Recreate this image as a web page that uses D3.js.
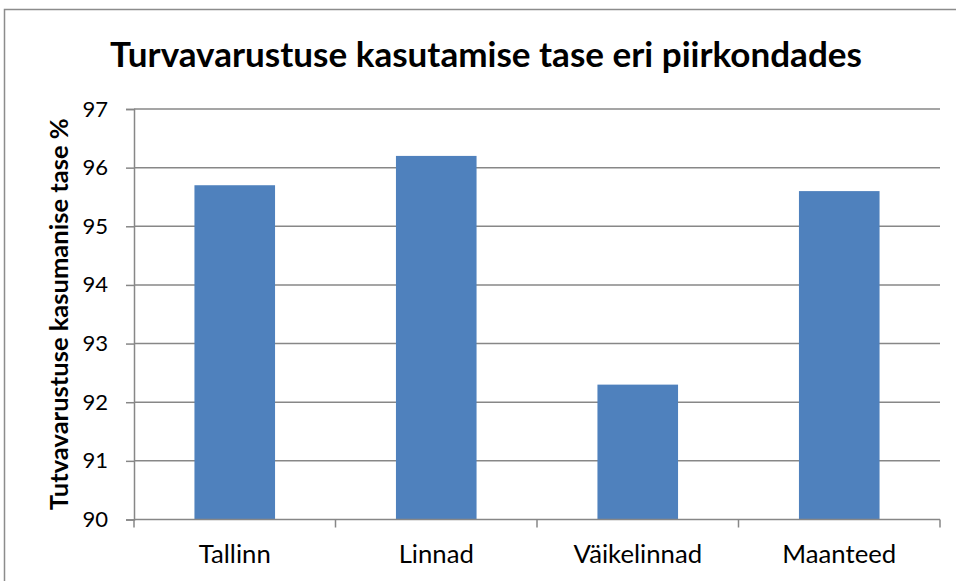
<!DOCTYPE html>
<html>
<head>
<meta charset="utf-8">
<script src="https://cdn.jsdelivr.net/npm/d3@7"></script>
<style>
  body { margin: 0; background: #fff; }
  svg { display: block; font-family: Lato, "Open Sans", "Liberation Sans", sans-serif; }
</style>
</head>
<body>
<svg id="chart" width="956" height="581"></svg>
<script>
// data
const categories = ["Tallinn", "Linnad", "Väikelinnad", "Maanteed"];
const values = [95.7, 96.2, 92.3, 95.6];
const yTicks = [90, 91, 92, 93, 94, 95, 96, 97];
const titleText = "Turvavarustuse kasutamise tase eri piirkondades";
const yLabel = "Tutvavarustuse kasumanise tase %";

const font = 'Lato, "Open Sans", "Liberation Sans", sans-serif';
const svg = d3.select("#chart");
const grid = "#878787";

// scale a text's font size so it spans a target width
function fitSize(sel, base, target) {
  const w = sel.node().getComputedTextLength();
  return base * target / w;
}

// outer frame (right / bottom run off the picture)
svg.append("rect")
  .attr("x", 4.5).attr("y", 9.5)
  .attr("width", 970).attr("height", 600)
  .attr("fill", "#fff")
  .attr("stroke", "#8c8c8c")
  .attr("stroke-width", 1.5);

const plotL = 134, plotR = 940, plotT = 109, plotB = 519.5;

const x = d3.scaleBand().domain(categories).range([plotL, plotR]).paddingInner(0.6).paddingOuter(0.3);
const y = d3.scaleLinear().domain([90, 97]).range([plotB, plotT]);

// gridlines
svg.append("g")
  .selectAll("line")
  .data(yTicks.slice(1))
  .join("line")
  .attr("x1", plotL).attr("x2", plotR)
  .attr("y1", d => y(d)).attr("y2", d => y(d))
  .attr("stroke", grid).attr("stroke-width", 1.5);

// bars
svg.append("g")
  .selectAll("rect")
  .data(values)
  .join("rect")
  .attr("x", (d, i) => x(categories[i]))
  .attr("width", x.bandwidth())
  .attr("y", d => y(d))
  .attr("height", d => y(90) - y(d))
  .attr("fill", "#4f81bd");

// y axis
const yAxis = svg.append("g")
  .attr("transform", `translate(${plotL},0)`)
  .call(d3.axisLeft(y).tickValues(yTicks).tickSize(8).tickPadding(18).tickFormat(d3.format("d")))
  .attr("font-family", font);
yAxis.select(".domain").attr("stroke", grid).attr("stroke-width", 1.5);
yAxis.selectAll(".tick line").attr("stroke", grid).attr("stroke-width", 1.5);
const tickText = yAxis.selectAll("text").attr("font-size", 20).attr("fill", "#000");
const tickSize = fitSize(d3.select(tickText.nodes()[7]), 20, 25.6);
tickText.attr("font-size", tickSize);

// x axis: baseline + ticks between categories
const edges = d3.range(categories.length + 1).map(i => plotL + i * (plotR - plotL) / categories.length);
svg.append("line")
  .attr("x1", plotL).attr("x2", plotR)
  .attr("y1", plotB).attr("y2", plotB)
  .attr("stroke", grid).attr("stroke-width", 1.5);
svg.append("g")
  .selectAll("line")
  .data(edges)
  .join("line")
  .attr("x1", d => d).attr("x2", d => d)
  .attr("y1", plotB).attr("y2", plotB + 8)
  .attr("stroke", grid).attr("stroke-width", 1.5);
const catText = svg.append("g")
  .selectAll("text")
  .data(categories)
  .join("text")
  .attr("x", d => x(d) + x.bandwidth() / 2)
  .attr("y", 563)
  .attr("text-anchor", "middle")
  .attr("font-size", 20)
  .text(d => d);
catText.attr("font-size", fitSize(d3.select(catText.nodes()[0]), 20, 72));

// title, fitted to its width in the reference
const title = svg.append("text")
  .attr("x", 486).attr("y", 67)
  .attr("text-anchor", "middle")
  .attr("font-weight", "bold")
  .attr("font-size", 30)
  .text(titleText);
title.attr("font-size", fitSize(title, 30, 752));

// y label
const yl = svg.append("text")
  .attr("transform", `translate(68,${(plotT + plotB) / 2}) rotate(-90)`)
  .attr("text-anchor", "middle")
  .attr("font-weight", "bold")
  .attr("font-size", 19)
  .text(yLabel);
yl.attr("font-size", fitSize(yl, 19, 392));
</script>
</body>
</html>
